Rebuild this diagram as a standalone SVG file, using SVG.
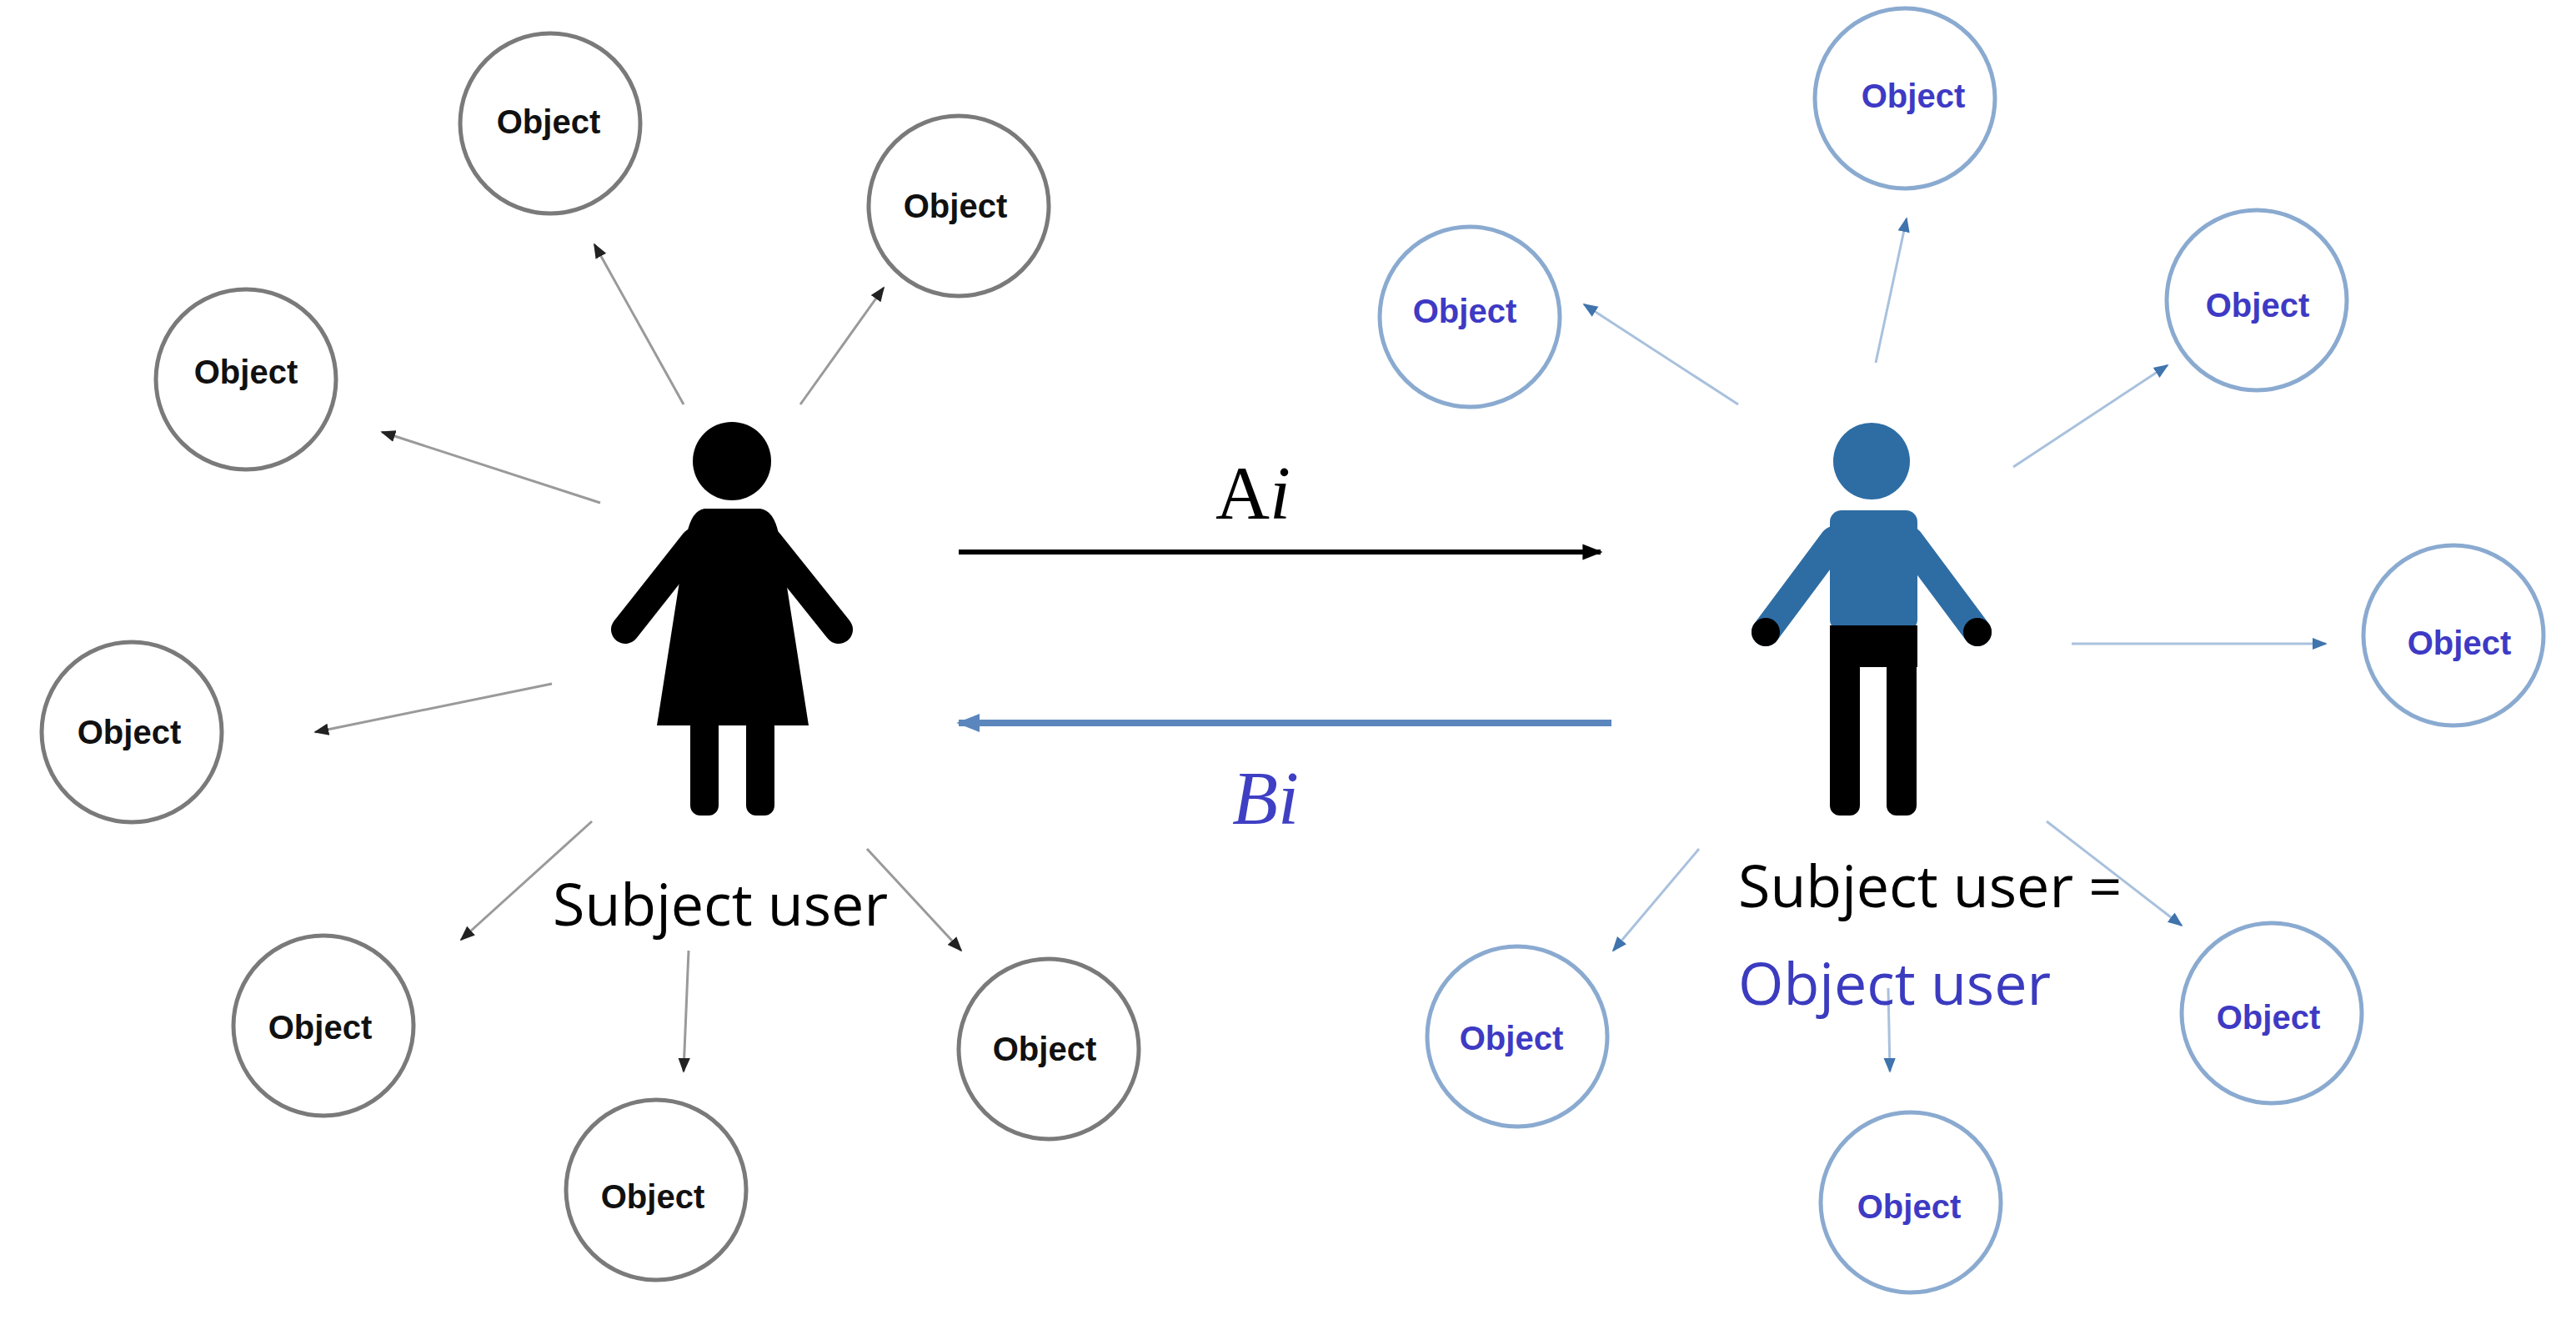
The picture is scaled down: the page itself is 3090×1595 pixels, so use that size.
<svg xmlns="http://www.w3.org/2000/svg" width="3090" height="1595" viewBox="0 0 3090 1595">
<style>
.ol{fill:#fff;stroke:#7a7a7a;stroke-width:5}
.or{fill:#fff;stroke:#8aaad0;stroke-width:5}
.tl{font-family:"Liberation Sans",Arial,sans-serif;font-weight:bold;font-size:40px;fill:#111;text-anchor:middle}
.tr{font-family:"Liberation Sans",Arial,sans-serif;font-weight:bold;font-size:40px;fill:#3e3ac4;text-anchor:middle}
.cl{stroke:#9a9a9a;stroke-width:3;fill:none;marker-end:url(#mg)}
.cr{stroke:#a9c1dd;stroke-width:3;fill:none;marker-end:url(#mb)}
.big{font-family:"Open Sans","Liberation Sans",sans-serif;font-size:70px}
</style>
<defs>
<marker id="mg" viewBox="0 0 10 10" refX="9" refY="5" markerWidth="6" markerHeight="6" orient="auto" markerUnits="strokeWidth"><path d="M0,1 L10,5 L0,9 Z" fill="#222"/></marker>
<marker id="mb" viewBox="0 0 10 10" refX="9" refY="5" markerWidth="6" markerHeight="6" orient="auto" markerUnits="strokeWidth"><path d="M0,1 L10,5 L0,9 Z" fill="#3f74ad"/></marker>
<marker id="mk" viewBox="0 0 10 10" refX="9" refY="5" markerWidth="4" markerHeight="4" orient="auto" markerUnits="strokeWidth"><path d="M0,1 L10,5 L0,9 Z" fill="#000"/></marker>
<marker id="mbl" viewBox="0 0 10 10" refX="9" refY="5" markerWidth="3.5" markerHeight="3.5" orient="auto" markerUnits="strokeWidth"><path d="M0,1 L10,5 L0,9 Z" fill="#5b86bd"/></marker>
</defs>
<rect width="3090" height="1595" fill="#fff"/>
<g id="connectors">
<line class="cl" x1="820" y1="485" x2="713" y2="293"/>
<line class="cl" x1="960" y1="485" x2="1060" y2="345"/>
<line class="cl" x1="720" y1="603" x2="458" y2="518"/>
<line class="cl" x1="662" y1="820" x2="378" y2="878"/>
<line class="cl" x1="710" y1="985" x2="553" y2="1127"/>
<line class="cl" x1="826" y1="1140" x2="820" y2="1285"/>
<line class="cl" x1="1040" y1="1018" x2="1153" y2="1140"/>
<line class="cr" x1="2250" y1="435" x2="2287" y2="262"/>
<line class="cr" x1="2085" y1="485" x2="1900" y2="365"/>
<line class="cr" x1="2415" y1="560" x2="2600" y2="438"/>
<line class="cr" x1="2485" y1="772" x2="2790" y2="772"/>
<line class="cr" x1="2038" y1="1018" x2="1935" y2="1140"/>
<line class="cr" x1="2265" y1="1185" x2="2267" y2="1285"/>
<line class="cr" x1="2455" y1="985" x2="2617" y2="1110"/>
<line x1="1150" y1="662" x2="1920" y2="662" stroke="#000" stroke-width="6" marker-end="url(#mk)"/>
<line x1="1933" y1="867" x2="1150" y2="867" stroke="#5b86bd" stroke-width="8" marker-end="url(#mbl)"/>
</g>
<g id="label-ai"><text x="1458" y="622" font-family="Liberation Serif,serif" font-size="90">A<tspan font-style="italic">i</tspan></text></g>
<g id="label-bi"><text x="1478" y="988" font-family="Liberation Serif,serif" font-size="90" font-style="italic" fill="#3f3fc4">Bi</text></g>
<g id="subject-left">
<circle cx="878" cy="553" r="47" fill="#000"/>
<path d="M845,610 L912,610 Q928,612 934,640 L970,870 L788,870 L824,640 Q830,612 845,610 Z" fill="#000"/>
<line x1="833" y1="650" x2="750" y2="755" stroke="#000" stroke-width="34" stroke-linecap="round"/>
<line x1="922" y1="650" x2="1006" y2="755" stroke="#000" stroke-width="34" stroke-linecap="round"/>
<rect x="828" y="860" width="34" height="118" rx="12" fill="#000"/>
<rect x="895" y="860" width="34" height="118" rx="12" fill="#000"/>
<text class="big" x="663" y="1110" fill="#000">Subject user</text>
</g>
<g id="subject-right">
<circle cx="2245" cy="553" r="46" fill="#2e6da4"/>
<line x1="2200" y1="648" x2="2118" y2="758" stroke="#2e6da4" stroke-width="34" stroke-linecap="round"/>
<line x1="2290" y1="648" x2="2372" y2="758" stroke="#2e6da4" stroke-width="34" stroke-linecap="round"/>
<circle cx="2118" cy="758" r="17" fill="#000"/>
<circle cx="2372" cy="758" r="17" fill="#000"/>
<rect x="2195" y="612" width="105" height="145" rx="14" fill="#2e6da4"/>
<rect x="2195" y="750" width="105" height="50" fill="#000"/>
<rect x="2195" y="790" width="36" height="188" rx="12" fill="#000"/>
<rect x="2263" y="790" width="36" height="188" rx="12" fill="#000"/>
<text class="big" x="2085" y="1088" fill="#000">Subject user =</text>
<text class="big" x="2085" y="1205" fill="#3b3bc0">Object user</text>
</g>
<g id="obj-l1"><circle class="ol" cx="660" cy="148" r="108"/><text class="tl" x="658" y="160">Object</text></g>
<g id="obj-l2"><circle class="ol" cx="1150" cy="247" r="108"/><text class="tl" x="1146" y="261">Object</text></g>
<g id="obj-l3"><circle class="ol" cx="295" cy="455" r="108"/><text class="tl" x="295" y="460">Object</text></g>
<g id="obj-l4"><circle class="ol" cx="158" cy="878" r="108"/><text class="tl" x="155" y="892">Object</text></g>
<g id="obj-l5"><circle class="ol" cx="388" cy="1230" r="108"/><text class="tl" x="384" y="1246">Object</text></g>
<g id="obj-l6"><circle class="ol" cx="787" cy="1427" r="108"/><text class="tl" x="783" y="1449">Object</text></g>
<g id="obj-l7"><circle class="ol" cx="1258" cy="1258" r="108"/><text class="tl" x="1253" y="1272">Object</text></g>
<g id="obj-r1"><circle class="or" cx="2285" cy="118" r="108"/><text class="tr" x="2295" y="129">Object</text></g>
<g id="obj-r2"><circle class="or" cx="1763" cy="380" r="108"/><text class="tr" x="1757" y="387">Object</text></g>
<g id="obj-r3"><circle class="or" cx="2707" cy="360" r="108"/><text class="tr" x="2708" y="380">Object</text></g>
<g id="obj-r4"><circle class="or" cx="2943" cy="762" r="108"/><text class="tr" x="2950" y="785">Object</text></g>
<g id="obj-r5"><circle class="or" cx="1820" cy="1243" r="108"/><text class="tr" x="1813" y="1259">Object</text></g>
<g id="obj-r6"><circle class="or" cx="2292" cy="1442" r="108"/><text class="tr" x="2290" y="1461">Object</text></g>
<g id="obj-r7"><circle class="or" cx="2725" cy="1215" r="108"/><text class="tr" x="2721" y="1234">Object</text></g>
</svg>
